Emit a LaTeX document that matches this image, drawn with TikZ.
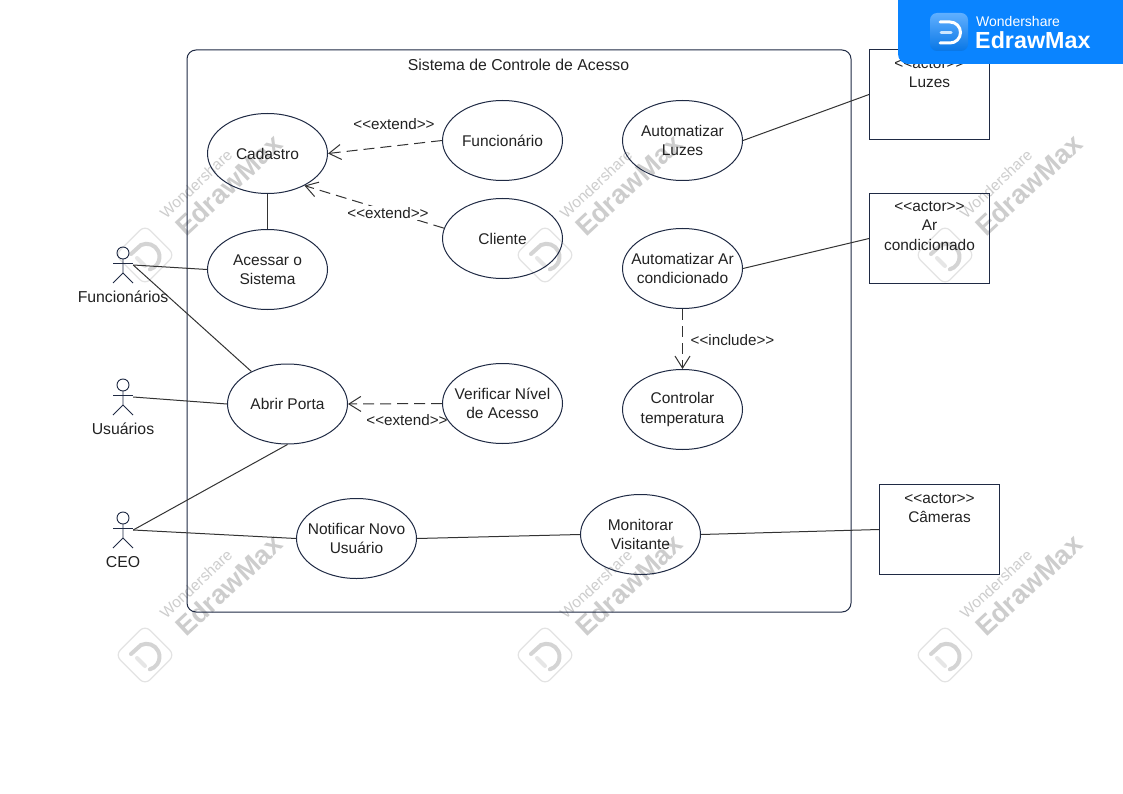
\documentclass[tikz,border=0pt]{standalone}
\usepackage{fontspec}
\setmainfont{Liberation Sans}[Ligatures=TeXOff]
\usepackage{tikz}
\usetikzlibrary{shapes.geometric,arrows.meta}
\definecolor{umlline}{HTML}{1F2A44}
\definecolor{umltext}{HTML}{222222}
\definecolor{bannerblue}{HTML}{0A84FF}
\definecolor{markgray}{HTML}{CDCDCD}
\tikzset{
  x=1pt, y=-1pt,
  every node/.style={font=\fontsize{15.8}{19.5}\selectfont, text=umltext},
  usecase/.style={draw=umlline, line width=1pt, ellipse, minimum width=120pt, minimum height=80pt, inner xsep=-16pt, inner ysep=0pt, align=center, font=\fontsize{15.5}{19.5}\selectfont},
  actorbox/.style={draw=umlline, line width=1pt, rectangle, minimum width=120pt, minimum height=90pt, inner sep=0pt},
  actortext/.style={align=center, anchor=north, inner sep=0pt, font=\fontsize{15.4}{19.5}\selectfont},
  stick/.style={rectangle, minimum width=20pt, minimum height=36pt, inner sep=0pt},
  assoc/.style={draw=black!80, line width=1pt},
  depend/.style={draw=black!80, line width=1pt, dashed, dash pattern=on 11pt off 6pt, ->, >={Straight Barb[length=12pt,width=15pt]}},
  stereo/.style={inner sep=1pt, font=\fontsize{15.2}{19.5}\selectfont},
  markfont/.style={text=markgray, rotate=43, inner sep=0pt}
}
% stick figure: name, x, y of the centre, label
\newcommand{\umlactor}[4]{
  \node (#1) [stick] at (#2,#3) {};
  \draw[umlline, line width=0.9pt] (#2,#3-12) circle (6pt);
  \draw[umlline, line width=0.9pt] (#2,#3-6) -- (#2,#3+8) -- (#2-10,#3+18);
  \draw[umlline, line width=0.9pt] (#2,#3+8) -- (#2+10,#3+18);
  \draw[umlline, line width=0.9pt] (#2-10,#3-2) -- (#2+10,#3-2);
  \node (#1-label) at (#2,#3+32) {#4};
}
% watermark
\newcommand{\edrawmark}[2]{
  \begin{scope}[shift={(#1,#2)}]
    \draw[markgray!55, line width=1.2pt, rounded corners=7pt, rotate=45] (-21,-21) rectangle (21,21);
    \draw[markgray!85, line width=4pt, line cap=round] (-14,-1) -- (-4,-10) arc (115:-75:13pt);
    \draw[markgray!50, line width=4pt, line cap=round] (-8,3) -- (0,11);
    \node (m1#1#2) [markfont, font=\fontsize{15.4}{16}\selectfont] at (51,-71) {Wondershare};
    \node (m2#1#2) [markfont, font=\bfseries\fontsize{27}{27}\selectfont] at (84,-70) {EdrawMax};
  \end{scope}
}
\begin{document}
\begin{tikzpicture}
  \useasboundingbox (0,0) rectangle (1123,794);
  \fill[white] (0,0) rectangle (1123,794);

  % watermarks
  \foreach \mx in {145,545,945} {
    \foreach \my in {255,655} {
      \edrawmark{\mx}{\my}
    }
  }

  \draw[umlline, line width=1pt, rounded corners=9pt] (187,50) rectangle (851,612);
  \node (title) at (518.5,65) {Sistema de Controle de Acesso};

  \node (cadastro) [usecase] at (267.5,153.5) {Cadastro};
  \node (acessar) [usecase] at (267.5,269.5) {Acessar o\\Sistema};
  \node (abrir) [usecase] at (287.5,404) {Abrir Porta};
  \node (funcionario) [usecase] at (502.5,140.5) {Funcionário};
  \node (cliente) [usecase] at (502.5,238.5) {Cliente};
  \node (verificar) [usecase] at (502.5,403.5) {Verificar Nível\\de Acesso};
  \node (luzes) [usecase] at (682.5,140.5) {Automatizar\\Luzes};
  \node (arcond) [usecase, below of=luzes, node distance=128pt] {Automatizar Ar\\condicionado};
  \node (temperatura) [usecase, below of=arcond, node distance=141pt] {Controlar\\temperatura};
  \node (notificar) [usecase] at (356.5,538.5) {Notificar Novo\\Usuário};
  \node (monitorar) [usecase] at (640.5,534.5) {Monitorar\\Visitante};

  \node (boxluzes) [actorbox] at (929.5,94.5) {};
  \node (boxar) [actorbox] at (929.5,238.5) {};
  \node (boxcameras) [actorbox] at (939.5,529.5) {};
  \node (textluzes) [actortext] at (929.5,58) {<<actor>>\\Luzes};
  \node (textar) [actortext] at (929.5,201) {<<actor>>\\Ar\\condicionado};
  \node (textcameras) [actortext] at (939.5,493) {<<actor>>\\Câmeras};

  \umlactor{funcionarios}{123}{265}{Funcionários}
  \umlactor{usuarios}{123}{397}{Usuários}
  \umlactor{ceo}{123}{530}{CEO}

  \draw[assoc] (cadastro) -- (acessar);
  \draw[assoc] (funcionarios.east) -- (acessar.west);
  \draw[assoc] (funcionarios.east) -- (abrir);
  \draw[assoc] (usuarios.east) -- (abrir.west);
  \draw[assoc] (ceo.east) -- (abrir.south);
  \draw[assoc] (ceo.east) -- (notificar.west);
  \draw[assoc] (notificar.east) -- (monitorar.west);
  \draw[assoc] (monitorar.east) -- (boxcameras.west);
  \draw[assoc] (luzes.east) -- (boxluzes.west);
  \draw[assoc] (arcond.east) -- (boxar.west);

  \draw[depend] (funcionario.west) -- (cadastro.east);
  \draw[depend] (cliente.170) -- (cadastro.-41);
  \draw[depend] (verificar.west) -- (abrir.east);
  \draw[depend] (arcond.south) -- (temperatura.north);

  \node (extend1) [stereo] at (394,124) {<<extend>>};
  \node (extend2) [stereo, fill=white] at (388,213) {<<extend>>};
  \node (extend3) [stereo] at (407,420) {<<extend>>};
  \node (include1) [stereo] at (732.5,340) {<<include>>};

  % banner
  \fill[bannerblue, rounded corners=10pt] (898,-20) rectangle (1143,64);
  \shade[rounded corners=7pt, top color=white!35!bannerblue, bottom color=bannerblue!90!black] (930,13) rectangle (968,51);
  \draw[white, line width=3pt, line cap=round] (940,22) -- (950,22) arc (90:-90:10.5pt) -- (940,43);
  \draw[white!80!bannerblue, line width=3pt, line cap=round] (941,32.5) -- (951,32.5);
  \node (brand1) [anchor=west, inner sep=0pt, text=white, font=\fontsize{14}{14}\selectfont] at (976,21) {Wondershare};
  \node (brand2) [anchor=west, inner sep=0pt, text=white, font=\bfseries\fontsize{23.3}{23}\selectfont] at (975,40) {EdrawMax};
\end{tikzpicture}
\end{document}
